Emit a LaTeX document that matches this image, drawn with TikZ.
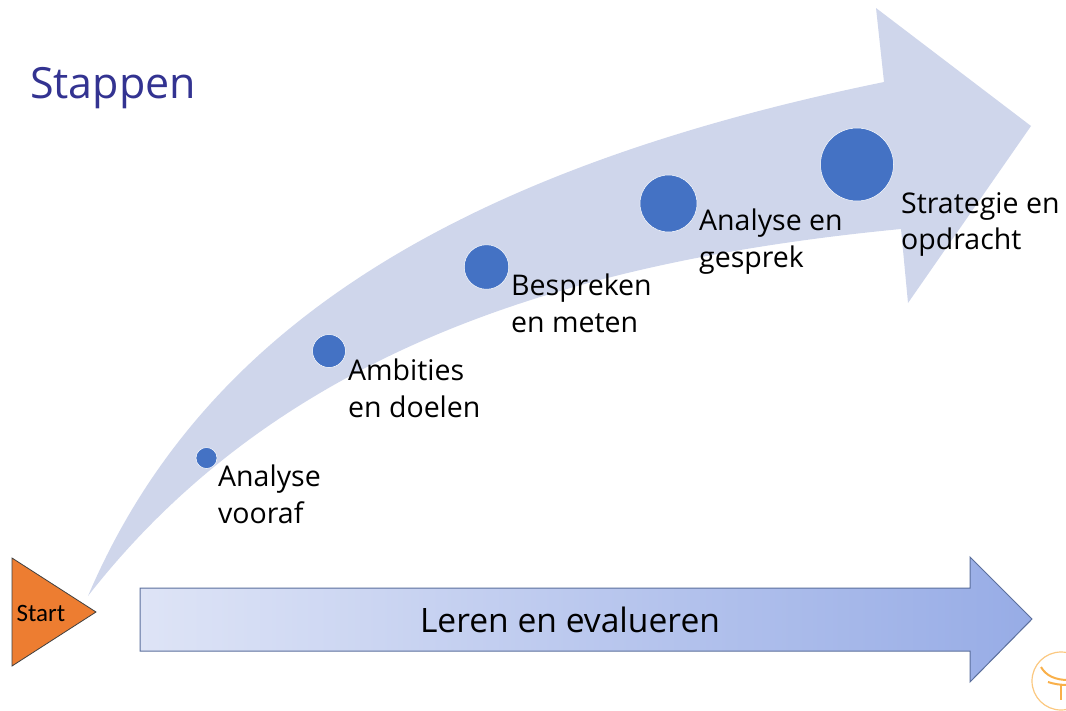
\documentclass[tikz,border=0pt]{standalone}
\usepackage{fontspec}
\setmainfont{Open Sans}
\newfontfamily\startfont{Carlito}
\definecolor{swoosh}{HTML}{CFD6EB}
\definecolor{dot}{HTML}{4472C4}
\definecolor{edgeblue}{HTML}{5B6F9C}
\definecolor{titleblue}{HTML}{333391}
\definecolor{startorange}{HTML}{ED7D31}
\definecolor{logo}{HTML}{F9B04A}
\definecolor{gradleft}{RGB}{222,228,246}
\definecolor{gradright}{RGB}{151,172,230}
\tikzset{
  stepdot/.style={circle,fill=dot,draw=white,line width=0.5pt,inner sep=0pt,minimum size=#1},
  steplabel/.style={align=left,anchor=north west,inner sep=0pt,font=\fontsize{28.5}{36.5}\selectfont,text=black},
}
\begin{document}
\begin{tikzpicture}[x=1pt,y=-1pt]
\useasboundingbox (0,0) rectangle (1066,710);
% swoosh
\fill[swoosh] (88,596) .. controls (195,345) and (430,175) .. (884,82)
  -- (876,8) -- (1031,126) -- (908,303) -- (901,229)
  .. controls (570,261) and (280,350) .. (88,596) -- cycle;
% bottom arrow
\path[draw=edgeblue,line width=1pt,left color=gradleft,right color=gradright]
  (140,588) -- (970,588) -- (970,557) -- (1032,619) -- (970,682) -- (970,651) -- (140,651) -- cycle;
\node[anchor=center,inner sep=0pt,font=\fontsize{33.6}{38}\selectfont] (leren) at (570,620) {Leren en evalueren};
% start
\draw[fill=startorange,draw=black!75,line width=0.8pt] (12,558) -- (96,612) -- (12,666) -- cycle;
\node[inner sep=0pt,font=\startfont\fontsize{25}{27}\selectfont] (start) at (41,613) {Start};
% title
\node[anchor=west,inner sep=0pt,text=titleblue,font=\fontsize{43}{48}\selectfont] (title) at (30,88) {Stappen};
% dots
\node[stepdot=21pt] (d1) at (206.5,458) {};
\node[stepdot=33pt] (d2) at (329,351) {};
\node[stepdot=44.5pt] (d3) at (486.5,267) {};
\node[stepdot=57pt] (d4) at (668.5,203.5) {};
\node[stepdot=73pt] (d5) at (857,164.5) {};
% labels
\node[steplabel] (l1) at (218,465) {Analyse\\vooraf};
\node[steplabel] (l2) at (348,359) {Ambities\\en doelen};
\node[steplabel] (l3) at (511,274) {Bespreken\\en meten};
\node[steplabel] (l4) at (699,209) {Analyse en\\gesprek};
\node[steplabel] (l5) at (901,192) {Strategie en\\opdracht};
% logo
\begin{scope}
\clip (1020,640) rectangle (1066,710);
\draw[logo!70!white,line width=1.2pt] (1061,681) circle (29);
\draw[logo,line width=2pt] (1041,667) .. controls (1046,676) and (1056,680) .. (1068,680);
\draw[logo,line width=2pt] (1048,682) .. controls (1054,684) and (1060,685) .. (1068,685);
\draw[logo,line width=2pt] (1061,685) -- (1061,700);
\end{scope}
\end{tikzpicture}
\end{document}
